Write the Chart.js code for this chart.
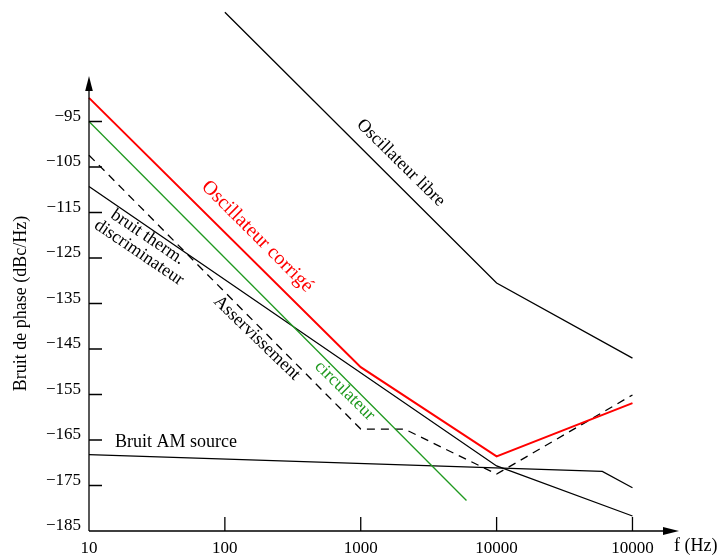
<!DOCTYPE html>
<html>
<head>
<meta charset="utf-8">
<script src="https://cdn.jsdelivr.net/npm/chart.js@4/dist/chart.umd.min.js"></script>
<style>
  html, body { margin: 0; padding: 0; background: #fff; }
</style>
</head>
<body>
<canvas id="graphe-bruit" width="721" height="558"></canvas>
<script>
// frequences (Hz) et niveaux (dBc/Hz)
let fLibre = [100, 10000, 100000]
let bLibre = [-71, -130.5, -147]

let fCorrige = [10, 1000, 10000, 100000]
let bCorrige = [-89.8, -149, -168.6, -156.9]

let fCircu = [10, 6000]
let bCircu = [-95, -178.3]

let fAsserv = [10, 1000, 2100, 10000, 100000]
let bAsserv = [-102.4, -162.6, -162.6, -172.5, -155.1]

let fDiscri = [10, 10000, 100000]
let bDiscri = [-109.3, -170.7, -181.7]

let fAM = [10, 60000, 100000]
let bAM = [-168.2, -171.9, -175.5]

let yTicks = [-95, -105, -115, -125, -135, -145, -155, -165, -175, -185]
let xTicks = [10, 100, 1000, 10000, 100000]
let xLabels = ['10', '100', '1000', '10000', '10000']

function points (fs, bs) {
    let pts = []
    for (let i = 0; i < fs.length; i++) {
        pts.push({x: fs[i], y: bs[i]})
    }
    return pts
}

// textes poses sur la figure (position en coordonnees des axes)
let notes = [
    {t: 'Oscillateur libre', f: 1970, v: -104.1, a: 44.6, col: '#000', size: 18},
    {t: 'Oscillateur corrigé', f: 173, v: -120.3, a: 45, col: '#ff0000', size: 20},
    {t: 'bruit therm.', f: 27, v: -120.4, a: 34, col: '#000', size: 18},
    {t: 'discriminateur', f: 23.3, v: -123.8, a: 34, col: '#000', size: 18},
    {t: 'Asservissement', f: 172, v: -142.6, a: 44, col: '#000', size: 18},
    {t: 'circulateur', f: 762, v: -154.2, a: 44.6, col: '#1f991f', size: 18},
    {t: 'Bruit AM source', f: 43.6, v: -165.4, a: 0, col: '#000', size: 18}
]

const police = "'Liberation Serif', 'DejaVu Serif', serif"
Chart.defaults.font.family = police
Chart.defaults.color = '#000'

const axes = {
    id: 'axes',
    afterDraw (chart) {
        const c = chart.ctx, a = chart.chartArea
        const sx = chart.scales.x, sy = chart.scales.y
        c.save()
        c.strokeStyle = '#000'
        c.fillStyle = '#000'
        c.lineWidth = 1.3
        c.beginPath()
        c.moveTo(a.left, a.bottom); c.lineTo(a.right - 12, a.bottom)
        c.moveTo(a.left, a.bottom); c.lineTo(a.left, a.top + 12)
        // petits traits de graduation vers l'interieur
        yTicks.forEach(v => {
            if (v > sy.min) {
                const p = sy.getPixelForValue(v)
                c.moveTo(a.left, p); c.lineTo(a.left + 13, p)
            }
        })
        xTicks.slice(1).forEach(v => {
            const p = sx.getPixelForValue(v)
            c.moveTo(p, a.bottom); c.lineTo(p, a.bottom - 14)
        })
        c.stroke()
        // fleches
        c.beginPath()
        c.moveTo(a.right, a.bottom); c.lineTo(a.right - 16, a.bottom - 4); c.lineTo(a.right - 16, a.bottom + 4)
        c.closePath(); c.fill()
        c.beginPath()
        c.moveTo(a.left, a.top); c.lineTo(a.left - 3.8, a.top + 15); c.lineTo(a.left + 3.8, a.top + 15)
        c.closePath(); c.fill()

        c.font = '18px ' + police
        c.textAlign = 'left'
        c.textBaseline = 'middle'
        c.fillText('f (Hz)', a.right - 5, a.bottom + 15)

        notes.forEach(n => {
            c.save()
            c.translate(sx.getPixelForValue(n.f), sy.getPixelForValue(n.v))
            c.rotate(n.a * Math.PI / 180)
            c.font = n.size + 'px ' + police
            c.fillStyle = n.col
            c.textAlign = 'center'
            c.textBaseline = 'middle'
            c.fillText(n.t, 0, 0)
            c.restore()
        })
        c.restore()
    }
}

const ctx = document.getElementById('graphe-bruit')
new Chart(ctx, {
    type: 'line',
    data: {
        datasets: [
            {label: 'Oscillateur libre', data: points(fLibre, bLibre), borderColor: '#000', borderWidth: 1.3},
            {label: 'Oscillateur corrigé', data: points(fCorrige, bCorrige), borderColor: '#ff0000', borderWidth: 2},
            {label: 'circulateur', data: points(fCircu, bCircu), borderColor: '#1f991f', borderWidth: 1.3},
            {label: 'Asservissement', data: points(fAsserv, bAsserv), borderColor: '#000', borderWidth: 1.3, borderDash: [8, 6]},
            {label: 'bruit therm. discriminateur', data: points(fDiscri, bDiscri), borderColor: '#000', borderWidth: 1.3},
            {label: 'Bruit AM source', data: points(fAM, bAM), borderColor: '#000', borderWidth: 1.3}
        ]
    },
    options: {
        responsive: false,
        animation: false,
        clip: false,
        layout: {padding: {top: 76, right: 42, left: 0, bottom: 0}},
        elements: {point: {radius: 0}, line: {tension: 0}},
        datasets: {line: {clip: false}},
        plugins: {
            legend: {display: false},
            tooltip: {enabled: false}
        },
        scales: {
            x: {
                type: 'logarithmic',
                min: 10,
                max: 220000,
                grid: {display: false, drawTicks: false},
                border: {display: false},
                afterBuildTicks: s => { s.ticks = xTicks.map(v => ({value: v})) },
                afterFit: s => { s.height = 27 },
                ticks: {
                    autoSkip: false,
                    maxRotation: 0,
                    padding: 7,
                    font: {size: 17},
                    callback: (v, i) => xLabels[i]
                }
            },
            y: {
                min: -185,
                max: -85,
                grid: {display: false, drawTicks: false},
                border: {display: false},
                afterBuildTicks: s => { s.ticks = yTicks.map(v => ({value: v})) },
                afterFit: s => { s.width = 89 },
                ticks: {
                    autoSkip: false,
                    padding: 8,
                    labelOffset: -5,
                    font: {size: 17},
                    callback: v => '\u2212' + Math.abs(v)
                },
                title: {
                    display: true,
                    text: 'Bruit de phase (dBc/Hz)',
                    font: {size: 18},
                    padding: {top: 10}
                }
            }
        }
    },
    plugins: [axes]
})
</script>
</body>
</html>
